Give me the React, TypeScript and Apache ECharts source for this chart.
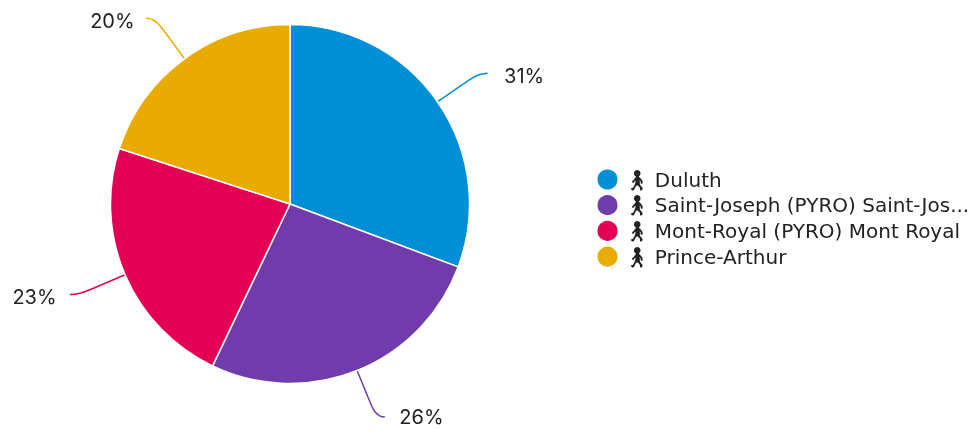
import React, { useEffect, useRef } from "react";
import * as echarts from "echarts";

const names = ["Duluth", "Saint-Joseph (PYRO) Saint-Jos...", "Mont-Royal (PYRO) Mont Royal", "Prince-Arthur"];
const values = [30.7, 26.4, 22.9, 20.0];
const colors = ["#008FD7", "#703CAB", "#E40055", "#EAAB00"];
const walker = "\u{1F6B6}\uFE0E";
const font = "Inter, 'Noto Sans', sans-serif";
const legendFont = "'DejaVu Sans', sans-serif";

export default function App() {
  const ref = useRef<HTMLDivElement>(null);
  useEffect(() => {
    const chart = echarts.init(ref.current!, null, { renderer: "svg" });
    chart.setOption({
      animation: false,
      color: colors,
      legend: {
        orient: "vertical",
        left: 595.5,
        top: 167.5,
        padding: 0,
        itemWidth: 22,
        itemHeight: 22,
        itemGap: 1.7,
        icon: "circle",
        formatter: (n: string) => `${walker} ${n}`,
        textStyle: { fontFamily: legendFont, fontSize: 20, lineHeight: 22, color: "#222222" },
      },
      series: [
        {
          type: "pie",
          center: [290, 204],
          radius: [0, 179.5],
          percentPrecision: 0,
          startAngle: 90,
          clockwise: true,
          avoidLabelOverlap: false,
          itemStyle: { borderColor: "#fff", borderWidth: 1.5 },
          label: {
            formatter: "{d}%",
            fontFamily: font,
            fontSize: 20,
            lineHeight: 17,
            color: "#222222",
            distanceToLabelLine: 14.5,
          },
          labelLayout: (p: { dataIndex: number }) => ({ dy: [3, 0, 3, 3][p.dataIndex], dx: [2, 0, 1, 3][p.dataIndex] }),
          labelLine: { show: true, length: 50, length2: 9, smooth: 0.6, lineStyle: { width: 1.5 } },
          data: names.map((name, i) => ({ name, value: values[i] })),
        },
      ],
    });
    return () => chart.dispose();
  }, []);
  return <div ref={ref} style={{ position: "fixed", left: 0, top: 0, width: 972, height: 429 }} />;
}
